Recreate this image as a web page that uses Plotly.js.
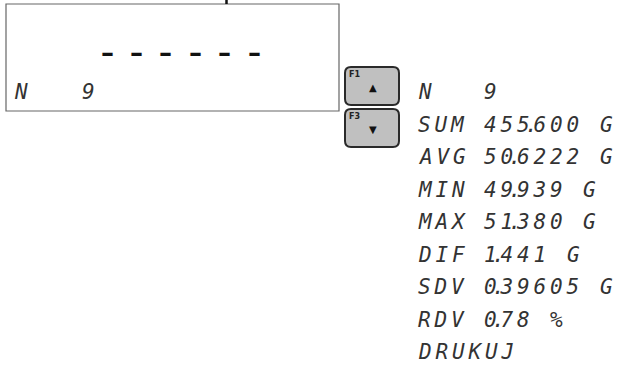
<!DOCTYPE html>
<html>
<head>
<meta charset="utf-8">
<script src="https://cdn.plot.ly/plotly-3.0.1.min.js"></script>
<style>html,body{margin:0;padding:0;background:#fff;}#chart{width:618px;height:379px;}</style>
</head>
<body>
<div id="chart"></div>
<script>
// ---- data ----
const labels = ['N', 'SUM', 'AVG', 'MIN', 'MAX', 'DIF', 'SDV', 'RDV', 'DRUKUJ'];
const values = ['9', '455.600', '50.6222', '49.939', '51.380', '1.441', '0.39605', '0.78', ''];
const units  = ['', 'G', 'G', 'G', 'G', 'G', 'G', '%', ''];
const displayLabel = 'N';
const displayValue = '9';
const displayReadout = ['-', '-', '-', '-', '-', '-'];
const keyNames = ['F1', 'F3'];
const keyArrows = ['\u25B2', '\u25BC'];

// ---- layout / style ----
const W = 618, H = 379;
const rowY0 = 92, rowStep = 32.5;
const gridX0 = 416, pitch = 16.5, valueCol = 4;
const FS = 21, ADV = FS * 0.602;
const LS = pitch - ADV;
const lcdFont = {family: 'DejaVu Sans Mono', size: FS, color: '#333', style: 'italic'};

// fixed-pitch LCD text; a decimal point takes no cell of its own
function lcd(str) {
  let out = '';
  const dotStart = 8.2; // offset of the point inside its cell
  for (let i = 0; i < str.length; i++) {
    const c = str[i];
    let ls = LS;
    if (str[i + 1] === '.') ls = dotStart - ADV;
    if (c === '.') ls = pitch - dotStart - ADV;
    out += `<span style="letter-spacing:${ls.toFixed(2)}px">${c}</span>`;
  }
  return out;
}

const ann = [];
function txt(x, y, text, font, anchor) {
  ann.push({x: x, y: y, xref: 'x', yref: 'y', text: text, showarrow: false,
            xanchor: anchor || 'left', yanchor: 'middle', align: 'left', font: font});
}
labels.forEach((l, i) => {
  const y = rowY0 + i * rowStep;
  txt(gridX0, y, lcd(l), lcdFont);
  if (values[i]) txt(gridX0 + valueCol * pitch, y, lcd(values[i]), lcdFont);
  if (units[i]) {
    const nd = values[i].replace('.', '').length;
    txt(gridX0 + (valueCol + nd + 1) * pitch, y, lcd(units[i]), lcdFont);
  }
});
// display panel
txt(12, 92, lcd(displayLabel), lcdFont);
txt(80, 92, lcd(displayValue), lcdFont);
displayReadout.forEach((c, i) => {
  txt(107 + i * 29.4, 53, '\u2013', {family: 'DejaVu Sans', size: 26, color: '#111', weight: 'bold'}, 'center');
});

const shapes = [];
shapes.push({type: 'rect', xref: 'x', yref: 'y', x0: 6, x1: 339, y0: 4, y1: 111,
             line: {color: '#666', width: 1.2}, fillcolor: 'rgba(0,0,0,0)'});
shapes.push({type: 'line', xref: 'x', yref: 'y', x0: 226.5, x1: 226.5, y0: 0, y1: 4,
             line: {color: '#111', width: 2.5}});
function rrect(x0, y0, x1, y1, r) {
  return `M${x0 + r},${y0} L${x1 - r},${y0} Q${x1},${y0} ${x1},${y0 + r} L${x1},${y1 - r} Q${x1},${y1} ${x1 - r},${y1} L${x0 + r},${y1} Q${x0},${y1} ${x0},${y1 - r} L${x0},${y0 + r} Q${x0},${y0} ${x0 + r},${y0} Z`;
}
keyNames.forEach((k, i) => {
  const y0 = 67 + i * 42, y1 = y0 + 38;
  shapes.push({type: 'path', xref: 'x', yref: 'y', path: rrect(345, y0, 399, y1, 6),
               fillcolor: '#c0c0c0', line: {color: '#2a2a2a', width: 2}});
  txt(347, y0 + 7, k, {family: 'DejaVu Sans', size: 8, color: '#222', weight: 'bold'});
  txt(373, y0 + 20, keyArrows[i], {family: 'DejaVu Sans', size: 10, color: '#111'}, 'center');
});

const layout = {
  width: W, height: H,
  margin: {l: 0, r: 0, t: 0, b: 0},
  paper_bgcolor: '#fff', plot_bgcolor: '#fff',
  xaxis: {range: [0, W], visible: false, fixedrange: true},
  yaxis: {range: [H, 0], visible: false, fixedrange: true},
  showlegend: false,
  annotations: ann,
  shapes: shapes
};
Plotly.newPlot('chart', [{x: [], y: [], type: 'scatter'}], layout, {displayModeBar: false, staticPlot: true});
</script>
</body>
</html>
